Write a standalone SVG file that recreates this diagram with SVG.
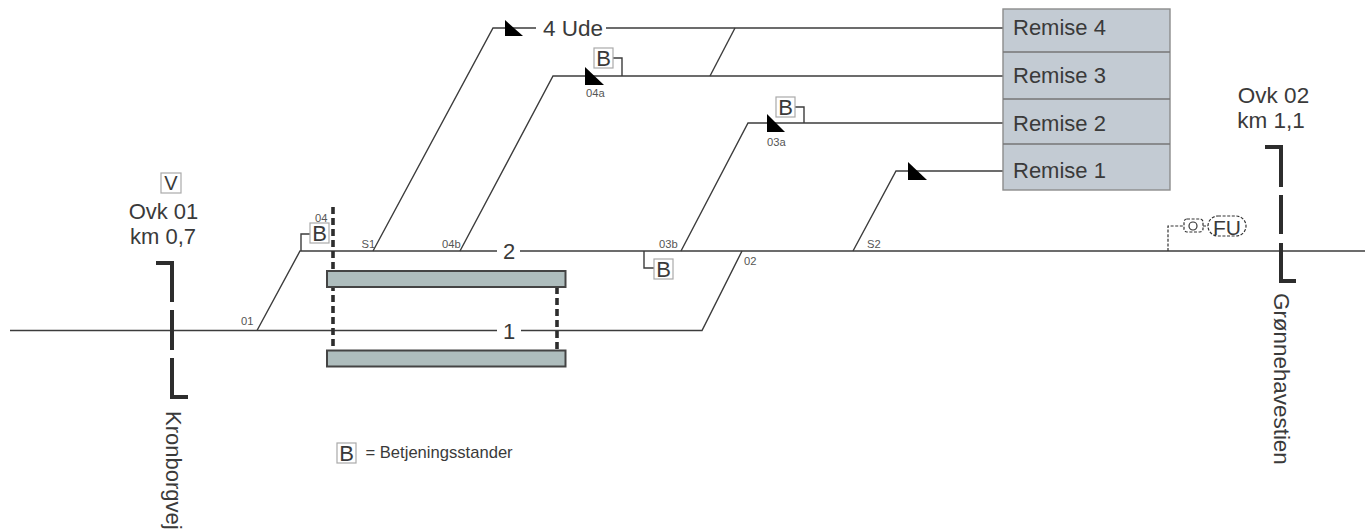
<svg xmlns="http://www.w3.org/2000/svg" width="1365" height="532" viewBox="0 0 1365 532">
<style>
text{font-family:"Liberation Sans",Arial,sans-serif;fill:#3a3a3a}
.t{font-size:22px}
.m{text-anchor:middle}
.s{font-size:11.2px;fill:#555}
.bt{font-size:22px;text-anchor:middle}
.l{fill:none;stroke:#3c3c3c;stroke-width:1.4}
.b{fill:none;stroke:#2d2d2d;stroke-width:4}
.d{fill:none;stroke:#2d2d2d;stroke-width:3.6;stroke-dasharray:7 4}
.k{fill:none;stroke:#333;stroke-width:1.2;stroke-dasharray:3 1.6}
.bx{fill:#fff;stroke:#aaa;stroke-width:1.2}
.tri{fill:#000}
.rm{fill:#c3cbd3;stroke:#8c8c8c;stroke-width:1.4}
.dv{fill:none;stroke:#777;stroke-width:1.4}
.pf{fill:#aebdbd;stroke:#444;stroke-width:2}
</style>
<g id="connectors">
<path class="l" d="M10 330.500H497M521 330.500H702L742 251"/>
<path class="l" d="M257 330.500L300 251H497M520 251H1365"/>
<path class="l" d="M373 251L493 28H536M606 28H1003"/>
<path class="l" d="M460 251L553 76H1003"/>
<path class="l" d="M710 76L735 28"/>
<path class="l" d="M681 251L748 123H1003"/>
<path class="l" d="M853 251L896 171H1003"/>
<path class="l" d="M301 251V234H310M613 58H622V76M795 107H804V123M644 251V268H654"/>
<path class="k" d="M1168 251V226H1184M1203 226H1208"/>
</g>
<g id="platforms">
<path class="d" d="M333 207V350M557 287V350"/>
<rect class="pf" x="327" y="271" width="238.500" height="16"/>
<rect class="pf" x="327" y="350.500" width="238.500" height="16"/>
</g>
<g id="signals">
<path class="tri" d="M505 20V36H523Z"/>
<path class="tri" d="M585 67V85H604Z"/>
<path class="tri" d="M767 114V132H785Z"/>
<path class="tri" d="M908 162V180H927Z"/>
</g>
<g id="remiser">
<rect class="rm" x="1003" y="9" width="167" height="181"/>
<path class="dv" d="M1003 52H1170M1003 99H1170M1003 144H1170"/>
<text class="t" x="1013" y="35">Remise 4</text>
<text class="t" x="1013" y="83">Remise 3</text>
<text class="t" x="1013" y="131">Remise 2</text>
<text class="t" x="1013" y="178">Remise 1</text>
</g>
<g id="ovk01">
<path class="b" d="M156 263H172V302M172 310V350M172 358V397H188"/>
<rect class="bx" x="161" y="173" width="20" height="20"/>
<text class="m" x="171" y="190" font-size="20">V</text>
<text class="t m" x="163.500" y="219">Ovk 01</text>
<text class="t m" x="163" y="244">km 0,7</text>
<text class="t" transform="translate(166 411) rotate(90)">Kronborgvej</text>
</g>
<g id="ovk02">
<path class="b" d="M1265 147H1281V187M1281 195V234M1281 243V281H1296"/>
<text class="t m" x="1273.500" y="103" style="font-size:22.500px">Ovk 02</text>
<text class="t m" x="1271" y="128" style="font-size:22.500px">km 1,1</text>
<text class="t" transform="translate(1274 293) rotate(90)" style="font-size:22.400px">Grønnehavestien</text>
</g>
<g id="fu">
<rect class="k" x="1184" y="219" width="19" height="13" rx="3"/>
<circle cx="1193" cy="226" r="4" fill="none" stroke="#333" stroke-width="1.2"/>
<rect class="k" x="1208" y="216" width="38" height="20" rx="10"/>
<text class="m" x="1227" y="235" font-size="21">FU</text>
</g>
<g id="b1"><rect class="bx" x="310" y="223" width="19" height="20"/><text class="bt" x="319.500" y="241">B</text></g>
<g id="b2"><rect class="bx" x="594" y="48" width="19" height="20"/><text class="bt" x="603.500" y="66">B</text></g>
<g id="b3"><rect class="bx" x="776" y="97" width="19" height="20"/><text class="bt" x="785.500" y="115">B</text></g>
<g id="b4"><rect class="bx" x="654" y="259" width="19" height="20"/><text class="bt" x="663.500" y="277">B</text></g>
<g id="legend"><rect class="bx" x="337" y="443" width="19" height="20"/><text class="bt" x="346.500" y="461">B</text>
<text x="365.500" y="457.500" font-size="16.600">= Betjeningsstander</text></g>
<g id="labels">
<text class="t m" x="509" y="259">2</text>
<text class="t m" x="509" y="339">1</text>
<text class="t" x="543" y="36" style="font-size:22.500px">4 Ude</text>
<text class="s" x="241" y="325">01</text>
<text class="s" x="315" y="222">04</text>
<text class="s" x="361.500" y="248">S1</text>
<text class="s" x="442" y="248">04b</text>
<text class="s" x="586" y="97">04a</text>
<text class="s" x="767" y="146">03a</text>
<text class="s" x="659" y="248">03b</text>
<text class="s" x="744" y="265">02</text>
<text class="s" x="867" y="248">S2</text>
</g>
</svg>
